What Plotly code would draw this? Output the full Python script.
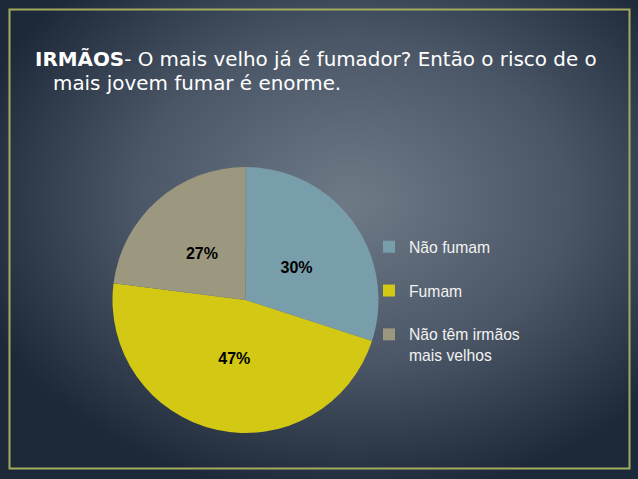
import base64

import plotly.graph_objects as go

# chart data
categories = ["Não fumam", "Fumam", "Não têm irmãos<br>mais velhos"]
slice_values = [30, 47, 23]
slice_text = ["30%", "47%", "27%"]
slice_colors = ["#789dab", "#d3c813", "#9c987f"]

title_bold = "IRMÃOS"
title_rest = "- O mais velho já é fumador? Então o risco de o"
title_line2 = "mais jovem fumar é enorme."

W, H = 638, 479


def px_x(x):
    return x / W


def px_y(y):
    return 1 - y / H


# radial gradient background as an inline svg
bg_svg = f"""<svg xmlns='http://www.w3.org/2000/svg' width='{W}' height='{H}'>
<defs><radialGradient id='g' cx='0.55' cy='0.42' r='0.62' fx='0.55' fy='0.42'>
<stop offset='0' stop-color='#6e7a86'/>
<stop offset='0.55' stop-color='#4a5666'/>
<stop offset='1' stop-color='#1d2838'/>
</radialGradient></defs>
<rect width='100%' height='100%' fill='url(#g)'/></svg>"""
bg_uri = "data:image/svg+xml;base64," + base64.b64encode(bg_svg.encode()).decode()

# legend labels padded so each entry takes two lines, like the original
legend_labels = [c if "<br>" in c else c + "<br> " for c in categories]

pie_dom = dict(x=[px_x(112.5), px_x(378.5)], y=[px_y(433), px_y(167)])
# smaller, invisible pie on top that only carries the percentages (puts them nearer the centre)
lab_r, lab_cx, lab_cy = 112, 246.5, 304
lab_dom = dict(
    x=[px_x(lab_cx - lab_r), px_x(lab_cx + lab_r)],
    y=[px_y(lab_cy + lab_r), px_y(lab_cy - lab_r)],
)

fig = go.Figure()
fig.add_trace(
    go.Pie(
        labels=legend_labels,
        values=slice_values,
        textinfo="none",
        marker=dict(colors=slice_colors, line=dict(width=0)),
        sort=False,
        direction="clockwise",
        rotation=0,
        hoverinfo="skip",
        domain=pie_dom,
    )
)
fig.add_trace(
    go.Pie(
        labels=legend_labels,
        values=slice_values,
        text=slice_text,
        textinfo="text",
        textposition="inside",
        insidetextorientation="horizontal",
        textfont=dict(family="Liberation Sans, Arial", size=16, color="black", weight="bold"),
        marker=dict(colors=["rgba(0,0,0,0)"] * len(slice_values), line=dict(width=0)),
        sort=False,
        direction="clockwise",
        rotation=0,
        hoverinfo="skip",
        showlegend=False,
        domain=lab_dom,
    )
)

title_font = dict(family="DejaVu Sans", size=19.9, color="white")
fig.add_annotation(
    x=px_x(33), y=px_y(45), xref="paper", yref="paper",
    xanchor="left", yanchor="top", showarrow=False,
    text=f"<b>{title_bold}</b>{title_rest}", font=title_font,
)
fig.add_annotation(
    x=px_x(51), y=px_y(70), xref="paper", yref="paper",
    xanchor="left", yanchor="top", showarrow=False,
    text=title_line2, font=title_font,
)

fig.add_shape(
    type="rect", xref="paper", yref="paper",
    x0=px_x(9.5), x1=px_x(629.5), y0=px_y(468.5), y1=px_y(9.5),
    line=dict(color="#a2ab5e", width=2),
)

fig.update_layout(
    width=W,
    height=H,
    margin=dict(l=0, r=0, t=0, b=0),
    paper_bgcolor="#3a4656",
    plot_bgcolor="rgba(0,0,0,0)",
    images=[
        dict(
            source=bg_uri, xref="paper", yref="paper",
            x=0, y=1, sizex=1, sizey=1, sizing="stretch", layer="below",
        )
    ],
    legend=dict(
        x=px_x(369),
        y=px_y(230),
        xanchor="left",
        yanchor="top",
        valign="top",
        bgcolor="rgba(0,0,0,0)",
        font=dict(family="Liberation Sans, Arial", size=15.7, color="#f2f2f2"),
        itemwidth=30,
    ),
)

# drop the browser's default 8px body margin so the figure sits at the window corner
fig.write_html(
    "out.html",
    config={"displayModeBar": False},
    post_script="document.body.style.margin='0';",
)
